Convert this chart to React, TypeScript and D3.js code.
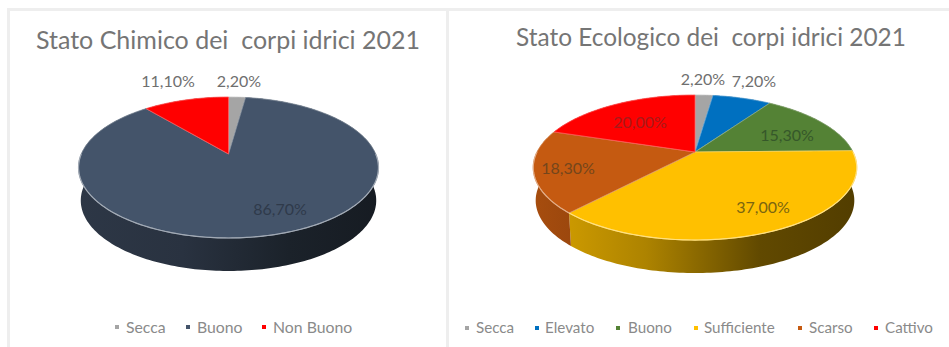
import React from "react";
import * as d3 from "d3";

// Stato Chimico
const chemicalCategories = ["Secca", "Buono", "Non Buono"];
const chemicalValues = [2.2, 86.7, 11.1];
const chemicalColors = ["#a5a5a5", "#44546a", "#ff0000"];
const chemicalLabelColors = ["#6f6f6f", "#2f3a4a", "#6f6f6f"];

// Stato Ecologico
const ecologicalCategories = ["Secca", "Elevato", "Buono", "Sufficiente", "Scarso", "Cattivo"];
const ecologicalValues = [2.2, 7.2, 15.3, 37.0, 18.3, 20.0];
const ecologicalColors = ["#a5a5a5", "#0070c0", "#548235", "#ffc000", "#c55a11", "#ff0000"];
const ecologicalLabelColors = ["#6f6f6f", "#6f6f6f", "#36582a", "#7a6510", "#74461c", "#a81a1a"];

const WIDTH = 949;
const HEIGHT = 347;
const FONT = "Lato, 'Open Sans', sans-serif";

const percent = (v: number) => d3.format(".2f")(v).replace(".", ",") + "%";

type PieConfig = {
  id: string;
  title: string;
  titleX: number;
  titleY: number;
  titleSize: number;
  categories: string[];
  values: number[];
  colors: string[];
  labelColors: string[];
  apexX: number;
  apexY: number;
  halfWidth: number;
  foreshorten: number;
  tilt: number;
  depth: number;
  wallShades: number[];
  labelAnchors: [number, number][];
  legendMarkers: number[];
  legendTexts: number[];
  legendY: number;
  legendSize: number;
};

const configs: PieConfig[] = [
  {
    id: "chem",
    title: "Stato Chimico dei\u00a0 corpi idrici 2021",
    titleX: 228,
    titleY: 49,
    titleSize: 25,
    categories: chemicalCategories,
    values: chemicalValues,
    colors: chemicalColors,
    labelColors: chemicalLabelColors,
    apexX: 228.5,
    apexY: 154,
    halfWidth: 147.2,
    foreshorten: 67.9,
    tilt: 0.1915,
    depth: 33,
    wallShades: [0.66, 0.6, 0.4, 0.32],
    labelAnchors: [[239, 81], [280, 209], [168, 81]],
    legendMarkers: [117, 188, 264],
    legendTexts: [126, 197, 273],
    legendY: 327,
    legendSize: 15.8,
  },
  {
    id: "eco",
    title: "Stato Ecologico dei\u00a0 corpi idrici 2021",
    titleX: 711,
    titleY: 46,
    titleSize: 24.4,
    categories: ecologicalCategories,
    values: ecologicalValues,
    colors: ecologicalColors,
    labelColors: ecologicalLabelColors,
    apexX: 695,
    apexY: 152,
    halfWidth: 158,
    foreshorten: 69.2,
    tilt: 0.2139,
    depth: 33,
    wallShades: [0.85, 0.68, 0.38, 0.32],
    labelAnchors: [[703, 79], [754, 81], [787, 135], [763, 207], [568, 168], [640, 122]],
    legendMarkers: [467, 537, 618, 696, 800, 876],
    legendTexts: [476, 545, 628, 704, 809, 885],
    legendY: 328,
    legendSize: 15.2,
  },
];

// Perspective projection of a point on the unit disc onto the tilted pie face.
function projector(c: PieConfig) {
  return (angle: number, shrink = 1, drop = 0): [number, number] => {
    const u = Math.sin(angle);
    const v = Math.cos(angle);
    const w = 1 + c.tilt * v;
    return [c.apexX + (shrink * c.halfWidth * u) / w, c.apexY + drop - (c.foreshorten * v) / w];
  };
}

function Pie3D({ config }: { config: PieConfig }) {
  const project = projector(config);
  const arcs = d3.pie<number>().sort(null)(config.values);
  const line = d3.line();
  const rim = (a: number, b: number) => {
    const steps = Math.max(2, Math.ceil(Math.abs(b - a) / 0.02));
    return d3.range(steps + 1).map((i) => a + ((b - a) * i) / steps);
  };
  const left = config.apexX - config.halfWidth * 1.03;
  const right = config.apexX + config.halfWidth * 1.03;
  const offsets = [0, 0.35, 0.7, 1];

  return (
    <g>
      <defs>
        {config.colors.map((color, i) => {
          const base = d3.rgb(color);
          const shade = (k: number) => d3.rgb(base.r * k, base.g * k, base.b * k).formatHex();
          return (
            <linearGradient key={i} id={`${config.id}-wall-${i}`} gradientUnits="userSpaceOnUse" x1={left} x2={right} y1={0} y2={0}>
              {config.wallShades.map((k, s) => (
                <stop key={s} offset={offsets[s]} stopColor={shade(k)} />
              ))}
            </linearGradient>
          );
        })}
      </defs>

      <text x={config.titleX} y={config.titleY} textAnchor="middle" fontFamily={FONT} fontSize={config.titleSize} fill="#757575">
        {config.title}
      </text>

      {/* Side walls: the far half ends up hidden under the top face */}
      {arcs.map((a, i) => {
        const angles = rim(a.startAngle, a.endAngle);
        const upper = angles.map((t) => project(t));
        const lower = angles.map((t) => project(t, 0.985, config.depth)).reverse();
        return <path key={i} d={line([...upper, ...lower]) + "Z"} fill={`url(#${config.id}-wall-${i})`} />;
      })}

      {/* Top face */}
      {arcs.map((a, i) => {
        const outline = [[config.apexX, config.apexY] as [number, number], ...rim(a.startAngle, a.endAngle).map((t) => project(t))];
        const edge = d3.interpolateRgb(config.colors[i], "#ffffff")(0.35);
        return <path key={i} d={line(outline) + "Z"} fill={config.colors[i]} stroke={edge} strokeWidth={0.8} strokeLinejoin="round" />;
      })}

      {/* Bright bevel along the near rim of the top face */}
      {arcs.map((a, i) => {
        const from = Math.max(a.startAngle, Math.PI / 2);
        const to = Math.min(a.endAngle, (3 * Math.PI) / 2);
        if (from >= to) return null;
        const edge = d3.interpolateRgb(config.colors[i], "#ffffff")(0.5);
        return <path key={i} d={line(rim(from, to).map((t) => project(t))) ?? ""} fill="none" stroke={edge} strokeWidth={1.2} />;
      })}

      {arcs.map((a, i) => (
        <text
          key={i}
          x={config.labelAnchors[i][0]}
          y={config.labelAnchors[i][1]}
          dy="0.35em"
          textAnchor="middle"
          fontFamily={FONT}
          fontSize={16}
          fill={config.labelColors[i]}
        >
          {percent(config.values[i])}
        </text>
      ))}

      {config.categories.map((name, i) => (
        <g key={name}>
          <rect x={config.legendMarkers[i] - 2} y={config.legendY - 2} width={4} height={4} fill={config.colors[i]} />
          <text x={config.legendTexts[i]} y={config.legendY} dy="0.35em" fontFamily={FONT} fontSize={config.legendSize} fill="#8a8a8a">
            {name}
          </text>
        </g>
      ))}
    </g>
  );
}

export default function App() {
  return (
    <svg width={WIDTH} height={HEIGHT} style={{ position: "fixed", left: 0, top: 0, display: "block" }}>
      <rect width={WIDTH} height={HEIGHT} fill="#ffffff" />
      {/* Panel frame */}
      <rect x={7} y={8} width={WIDTH - 7} height={3} fill="#eeeeee" />
      <rect x={7} y={8} width={3} height={HEIGHT - 8} fill="#eeeeee" />
      <rect x={446} y={8} width={3} height={HEIGHT - 8} fill="#eeeeee" />
      {configs.map((c) => (
        <Pie3D key={c.id} config={c} />
      ))}
    </svg>
  );
}
